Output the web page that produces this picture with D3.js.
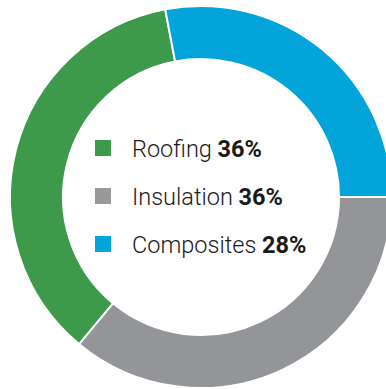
<!DOCTYPE html>
<html>
<head>
<meta charset="utf-8">
<script src="https://cdn.jsdelivr.net/npm/d3@7"></script>
<style>
  html, body { margin: 0; padding: 0; background: #fff; }
  svg { display: block; }
</style>
</head>
<body>
<svg id="chart" width="386" height="389"></svg>
<script>
const categories = ["Roofing", "Insulation", "Composites"];
const values = [36, 36, 28];
const colors = ["#3d9a4b", "#939598", "#03a4da"];
const legendColors = ["#3d9a4b", "#999999", "#03a4da"];
// clockwise drawing order beginning at 3 o'clock
const drawOrder = ["Insulation", "Roofing", "Composites"];

const data = categories.map((c, i) => ({ name: c, value: values[i], color: colors[i], legend: legendColors[i] }));

const svg = d3.select("#chart");
const cx = 201, cy = 197, outerR = 191, innerR = 138;

const pie = d3.pie()
  .value(d => d.value)
  .sort((a, b) => drawOrder.indexOf(a.name) - drawOrder.indexOf(b.name))
  .startAngle(Math.PI / 2)
  .endAngle(Math.PI / 2 + 2 * Math.PI);

const arc = d3.arc().innerRadius(innerR).outerRadius(outerR);

const g = svg.append("g").attr("transform", `translate(${cx},${cy})`);
g.selectAll("path")
  .data(pie(data))
  .join("path")
  .attr("d", arc)
  .attr("fill", d => d.data.color)
  .attr("stroke", "#fff")
  .attr("stroke-width", 2);

const y = d3.scalePoint().domain(categories).range([148, 244]);

const leg = svg.append("g");
const rows = leg.selectAll("g").data(data).join("g")
  .attr("transform", d => `translate(0,${y(d.name)})`);
rows.append("rect")
  .attr("x", 95).attr("y", -8).attr("width", 16).attr("height", 16)
  .attr("fill", d => d.legend);
const txt = rows.append("text")
  .attr("x", 132).attr("y", 8.5)
  .attr("font-family", "Roboto, 'Noto Sans', sans-serif")
  .attr("font-size", 23.5)
  .attr("fill", "#1a1a1a");
txt.append("tspan").attr("font-weight", 300).text(d => d.name + " ");
txt.append("tspan").attr("font-weight", 700).text(d => d.value + "%");
</script>
</body>
</html>
